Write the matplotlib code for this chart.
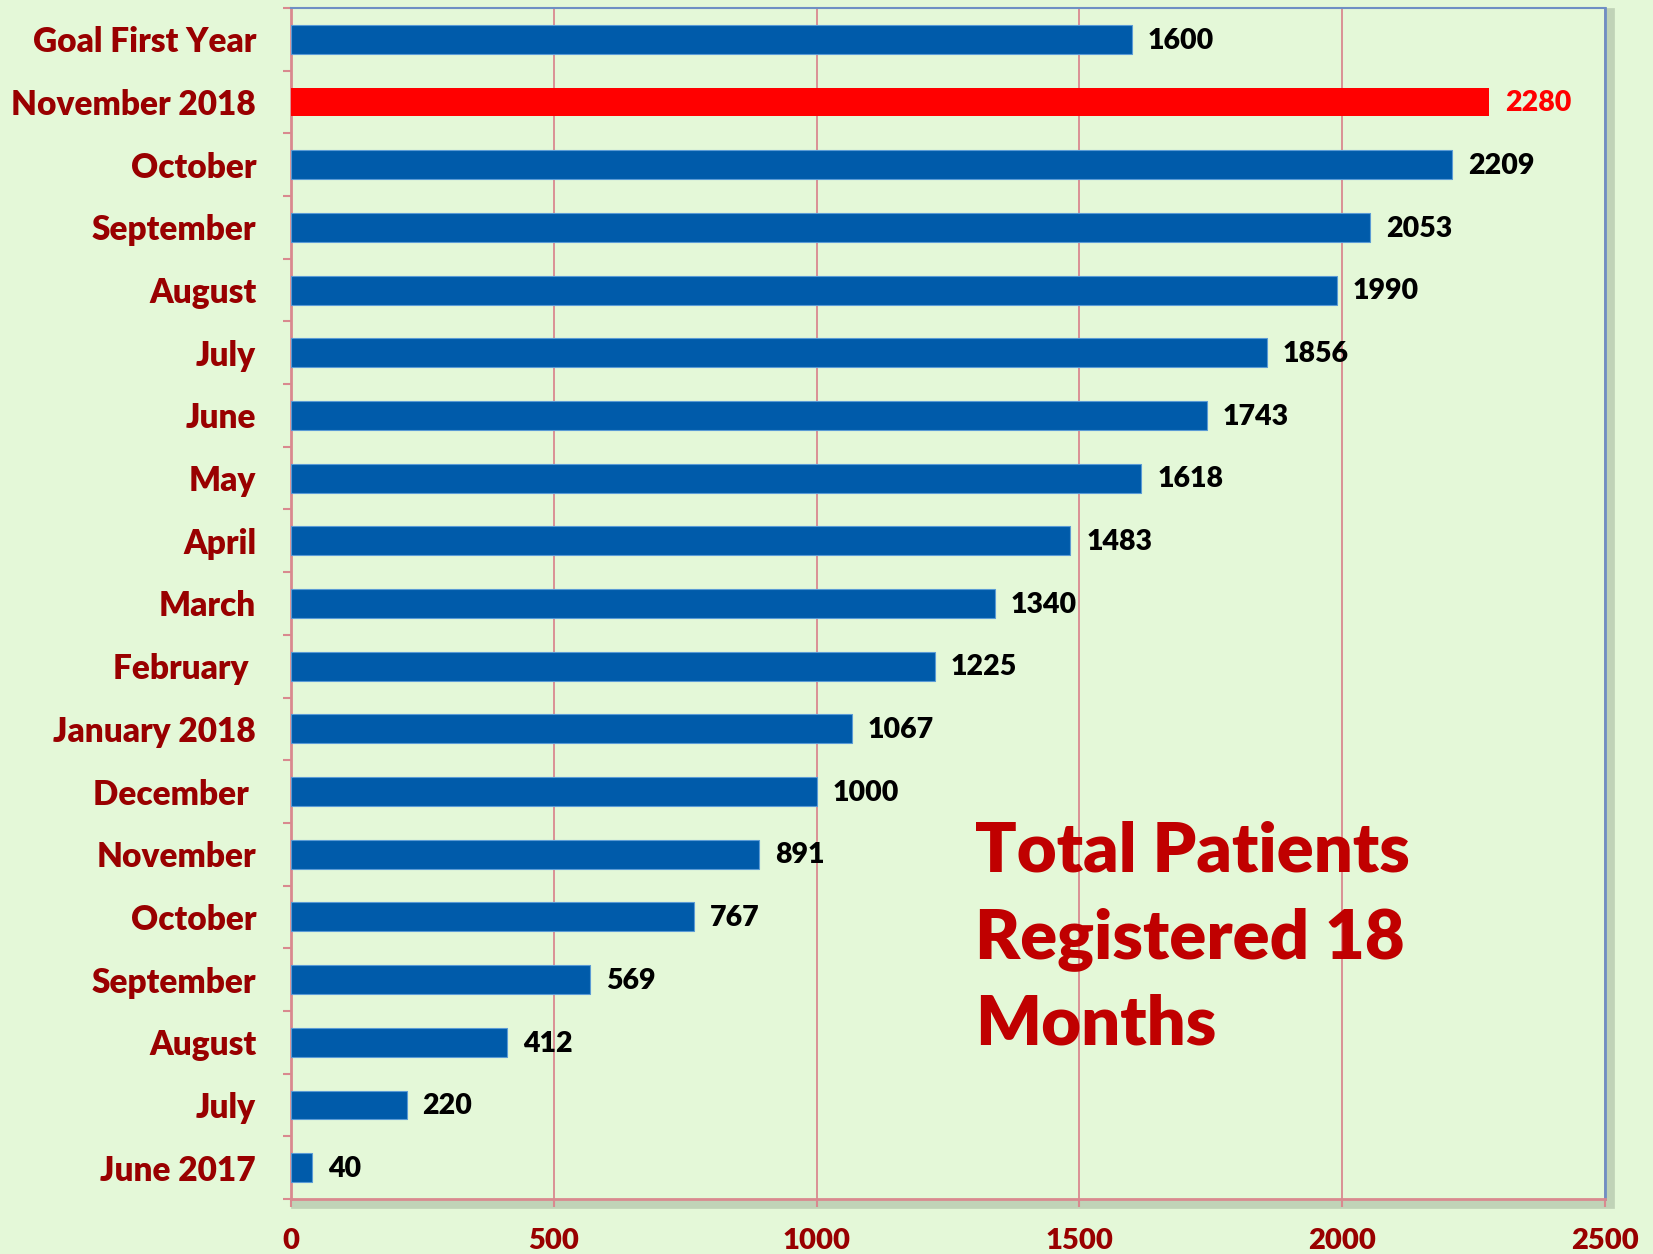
import matplotlib
matplotlib.use('Agg')
from matplotlib import pyplot as plt
import numpy as np

# data, bottom to top as drawn
months = ['June 2017', 'July', 'August', 'September', 'October', 'November',
          'December ', 'January 2018', 'February ', 'March', 'April', 'May',
          'June', 'July', 'August', 'September', 'October', 'November 2018',
          'Goal First Year']
patients = [40, 220, 412, 569, 767, 891, 1000, 1067, 1225, 1340, 1483, 1618,
            1743, 1856, 1990, 2053, 2209, 2280, 1600]
highlight = 'November 2018'
xticks = [0, 500, 1000, 1500, 2000, 2500]

bg = '#E4F8D8'
blue = '#005BAA'
red = '#FF0000'
darkred = '#990000'
gridc = '#D9898F'
framec = '#6F8FC4'

plt.rcParams['font.family'] = ['Lato', 'DejaVu Sans']

fig = plt.figure(figsize=(16.53, 12.54), dpi=100, facecolor=bg)
ax = fig.add_axes([0.176, 0.0439, 0.795, 0.9497])
ax.set_facecolor(bg)

# soft shadow behind the plot frame (axes background hides the inner part)
shadow = plt.Rectangle((0.176 + 0.003, 0.0439 - 0.004), 0.795, 0.9497,
                       transform=fig.transFigure, fill=False,
                       edgecolor='#7f8f7a', linewidth=7, alpha=0.35, zorder=-1)
fig.patches.append(shadow)

y = np.arange(len(months))
colors = [red if m == highlight else blue for m in months]
edges = ['none' if m == highlight else '#5B9BD5' for m in months]
ax.barh(y, patients, height=0.46, color=colors, edgecolor=edges,
        linewidth=0.8, zorder=3)

for yi, v, m in zip(y, patients, months):
    c = red if m == highlight else 'black'
    ax.text(v + 30, yi - 0.02, str(v), va='center', ha='left', color=c,
            fontsize=20.5, fontweight='heavy', zorder=4)

ax.set_xlim(0, 2500)
ax.set_ylim(-0.5, len(months) - 0.5)
ax.set_xticks(xticks)
ax.set_xticklabels([str(t) for t in xticks], color=darkred, fontsize=21,
                   fontweight='heavy')
ax.set_yticks(y)
ax.set_yticklabels(months, color=darkred, fontsize=24, fontweight='heavy')
ax.tick_params(axis='y', length=0, pad=25)
ax.set_yticks(np.arange(-0.5, len(months)), minor=True)
ax.tick_params(axis='y', which='minor', length=6, color=gridc, width=1.5)
ax.tick_params(axis='x', length=6, color=gridc, width=1.5, pad=15)

ax.grid(axis='x', color=gridc, linewidth=1.3, zorder=1)
ax.set_axisbelow(True)

ax.spines['left'].set_color(gridc)
ax.spines['bottom'].set_color(gridc)
ax.spines['left'].set_linewidth(2)
ax.spines['bottom'].set_linewidth(2)
ax.spines['top'].set_color(framec)
ax.spines['right'].set_color(framec)
ax.spines['top'].set_linewidth(1.5)
ax.spines['right'].set_linewidth(2)

ax.text(1302, 3.65, 'Total Patients\nRegistered 18\nMonths', color='#C00000',
        fontsize=49.5, fontweight='heavy', ha='left', va='center',
        linespacing=1.45, zorder=5)

fig.savefig('out.png', dpi=100, facecolor=bg)
